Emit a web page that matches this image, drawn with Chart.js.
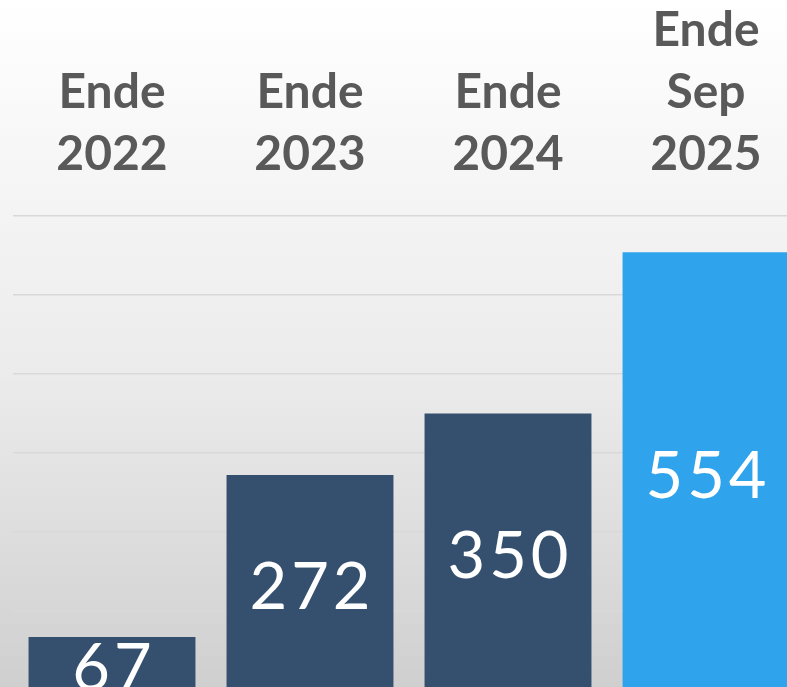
<!DOCTYPE html>
<html lang="de">
<head>
<meta charset="utf-8">
<title>Ende 2022 - Ende Sep 2025</title>
<script src="https://cdn.jsdelivr.net/npm/chart.js@4.4.1/dist/chart.umd.min.js"></script>
<style>
  html, body {
    margin: 0;
    padding: 0;
    width: 787px;
    height: 687px;
    overflow: hidden;
  }
  body {
    background: linear-gradient(to bottom, #ffffff 0%, #f6f6f6 25%, #ebebeb 55%, #dcdcdc 80%, #cfcfcf 100%);
  }
  #wrap {
    position: absolute;
    left: 0;
    top: 0;
  }
</style>
</head>
<body>
<div id="wrap">
  <canvas id="chart" width="820" height="700"></canvas>
</div>
<script>
// Data
const categories = [
  ["Ende", "2022"],
  ["Ende", "2023"],
  ["Ende", "2024"],
  ["Ende", "Sep", "2025"],
];
const values = [67, 272, 350, 554];
const barColors = ["#35506f", "#35506f", "#35506f", "#2fa3ec"];
const yTicks = [0, 100, 200, 300, 400, 500, 600];

// Value labels centred inside each bar
const centerLabels = {
  id: "centerLabels",
  afterDatasetsDraw(chart) {
    const { ctx } = chart;
    const meta = chart.getDatasetMeta(0);
    ctx.save();
    ctx.fillStyle = "#ffffff";
    ctx.font = "normal 65px Lato, 'Open Sans', sans-serif";
    ctx.letterSpacing = "4px";
    ctx.textAlign = "center";
    ctx.textBaseline = "middle";
    meta.data.forEach((bar, i) => {
      const y = (bar.y + bar.base) / 2 + 6;
      ctx.fillText(String(values[i]), bar.x + 2, y);
    });
    ctx.restore();
  },
};

const ctx = document.getElementById("chart").getContext("2d");
new Chart(ctx, {
  type: "bar",
  data: {
    labels: categories,
    datasets: [
      {
        data: values,
        backgroundColor: barColors,
        borderWidth: 0,
        barPercentage: 0.843,
        categoryPercentage: 1,
      },
    ],
  },
  options: {
    responsive: false,
    animation: false,
    devicePixelRatio: 1,
    layout: { padding: { left: 13, right: 15, top: 0, bottom: 10 } },
    plugins: {
      legend: { display: false },
      tooltip: { enabled: false },
    },
    scales: {
      x: {
        position: "top",
        grid: { display: false, drawTicks: false },
        border: { display: false },
        ticks: {
          color: "#595959",
          padding: 31,
          font: { family: "Lato, 'Open Sans', sans-serif", size: 48, weight: "bold", lineHeight: 1.29 },
        },
        afterFit(scale) {
          scale.height = 216;
        },
      },
      y: {
        min: yTicks[0],
        max: yTicks[yTicks.length - 1],
        ticks: { display: false, stepSize: yTicks[1] - yTicks[0] },
        grid: { color: "#d9d9d9", lineWidth: 1.5, drawTicks: false },
        border: { display: false },
      },
    },
  },
  plugins: [centerLabels],
});
</script>
</body>
</html>
